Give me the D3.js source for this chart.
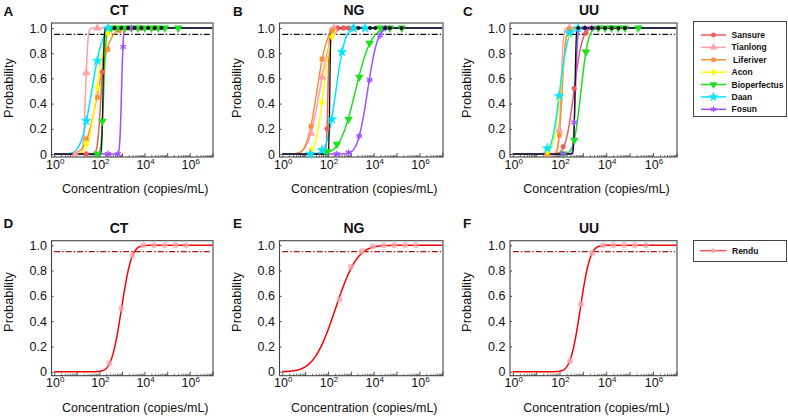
<!DOCTYPE html>
<html><head><meta charset="utf-8">
<script src="https://cdn.jsdelivr.net/npm/d3@7"></script>
<style>
body{margin:0;background:#fff}
svg{display:block;font-family:Arial,"Liberation Sans",Helvetica,sans-serif}
</style>
</head><body>
<svg id="chart" width="788" height="416"></svg>
<script>
// ---------------- DATA ----------------
const targets = ["CT", "NG", "UU"];
const topLetters = ["A", "B", "C"];
const bottomLetters = ["D", "E", "F"];
const kits = ["Sansure", "Tianlong", "Liferiver", "Acon", "Bioperfectus", "Daan", "Fosun"];
const kitColors = ["#f25a5a", "#ffa0a4", "#f88f3c", "#ffff00", "#1ee01e", "#00e5ff", "#9c50ff"];
const kitShapes = ["circle", "triangle", "square", "diamond", "triangleDown", "star", "asterisk"];
const xTickExponents = [0, 2, 4, 6];
const yTicks = [0, 0.2, 0.4, 0.6, 0.8, 1.0];
const lodLevel = 0.95;

// probit fits: log10(copies/mL) at 50% detection and SD (log10 units), per kit
const ctMid = [2.08, 1.39, 1.94, 1.88, 2.19, 1.66, 2.98];
const ctSd  = [0.12, 0.08, 0.42, 0.29, 0.085, 0.37, 0.06];
const ngMid = [2.00, 1.635, 1.515, 1.795, 3.20, 2.345, 3.73];
const ngSd  = [0.05, 0.39, 0.34, 0.26, 0.54, 0.31, 0.34];
const uuMid = [2.62, 2.06, 2.11, 2.04, 2.92, 2.01, 2.68];
const uuSd  = [0.28, 0.08, 0.12, 0.24, 0.24, 0.27, 0.07];
// black reference curve in panels A-C
const refMid = [2.16, 2.08, 2.66];
const refSd  = [0.04, 0.03, 0.04];

// observed hit rates: [log10 copies/mL, probability]
const ctPoints = [
  [[1.42, 0], [2.13, 0.65], [2.67, 1], [3.27, 1], [3.86, 1], [4.45, 1]],
  [[0.94, 0], [1.42, 0.645], [1.91, 1]],
  [[1.42, 0.12], [1.91, 0.45], [2.38, 0.83], [2.90, 0.98]],
  [[1.42, 0.08], [1.91, 0.53], [2.38, 0.96]],
  [[1.91, 0], [2.13, 0.26], [2.53, 1], [2.82, 1], [3.12, 1], [3.42, 1], [3.71, 1], [4.01, 1], [4.31, 1], [4.60, 1], [4.90, 1], [5.49, 1]],
  [[1.42, 0.264], [1.91, 0.74], [2.38, 1]],
  [[2.38, 0], [2.82, 0], [3.05, 0.85], [3.42, 1]]
];
const ngPoints = [
  [[1.26, 0], [1.96, 0.20], [2.42, 1], [2.68, 1], [2.90, 1], [3.12, 1]],
  [[1.26, 0.164], [1.74, 0.61], [2.25, 1]],
  [[1.26, 0.22], [1.74, 0.754], [2.17, 0.98]],
  [[1.26, 0.03], [1.74, 0.41], [2.17, 0.93]],
  [[1.96, 0.02], [2.39, 0.077], [2.90, 0.275], [3.37, 0.61], [3.82, 0.88], [4.28, 1], [4.71, 1], [5.22, 1]],
  [[1.23, 0], [1.74, 0.03], [2.17, 0.275], [2.61, 0.81], [3.12, 1], [3.63, 1]],
  [[2.39, 0], [2.90, 0.01], [3.37, 0.143], [3.82, 0.587], [4.28, 0.94], [4.50, 1]]
];
const uuPoints = [
  [[1.48, 0], [2.16, 0.058], [2.63, 0.52], [3.13, 0.96], [3.66, 1], [4.23, 1]],
  [[1.48, 0], [1.99, 0.19], [2.42, 1]],
  [[1.48, 0], [1.99, 0.15], [2.42, 0.99]],
  [[1.48, 0.02], [1.99, 0.45], [2.42, 0.95]],
  [[2.16, 0], [2.63, 0.11], [3.13, 0.81], [3.66, 1], [3.95, 1], [4.23, 1], [4.52, 1], [4.80, 1], [5.37, 1]],
  [[1.48, 0.045], [1.99, 0.46], [2.42, 0.96], [2.80, 1]],
  [[2.16, 0], [2.63, 0.25], [3.09, 1], [3.38, 1]]
];
const refPoints = [
  [[2.67, 1], [2.97, 1], [3.27, 1], [3.56, 1], [3.86, 1], [4.16, 1], [4.45, 1], [4.75, 1]],
  [[3.33, 1], [3.84, 1], [4.07, 1], [4.50, 1], [4.71, 1], [5.22, 1]],
  [[2.80, 1], [3.09, 1], [3.38, 1], [3.66, 1], [3.95, 1], [4.23, 1], [4.52, 1], [4.80, 1]]
];

// Rendu (panels D-F)
const renduLabel = "Rendu";
const renduMid = [2.98, 2.33, 2.89];
const renduSd  = [0.35, 0.75, 0.33];
const renduPoints = [
  [[2.44, 0.066], [2.98, 0.50], [3.46, 0.92], [3.95, 1], [4.41, 1], [4.88, 1], [5.36, 1], [5.83, 1]],
  [[2.51, 0.57], [3.00, 0.83], [3.48, 0.955], [3.96, 0.99], [4.43, 1], [4.89, 1], [5.37, 1], [5.84, 1]],
  [[2.45, 0.085], [2.92, 0.533], [3.40, 0.937], [3.87, 1], [4.30, 1], [4.77, 1], [5.23, 1], [5.69, 1]]
];

const xLabel = "Concentration (copies/mL)";
const yLabel = "Probability";

// ---------------- LAYOUT ----------------
const svg = d3.select("#chart");
const colsX = [[51.5, 213], [279.5, 443], [510, 677]];
const titleX = [119, 354, 589];
const letterX = [3.5, 233, 463];
const rowsY = [
  {top: 23, bottom: 157, one: 28, zero: 154, title: 15, letter: 16, ylab: 88},
  {top: 240.7, bottom: 375.7, one: 245.3, zero: 371.7, title: 233, letter: 228, ylab: 302}
];
const xDomain = [Math.pow(10, -0.12), Math.pow(10, 7.03)];
const curveStart = 0, curveEnd = 7;

function erf(x) {
  const s = Math.sign(x); x = Math.abs(x);
  const t = 1 / (1 + 0.3275911 * x);
  const y = 1 - (((((1.061405429 * t - 1.453152027) * t) + 1.421413741) * t - 0.284496736) * t + 0.254829592) * t * Math.exp(-x * x);
  return s * y;
}
function probit(v, mid, sd) { return 0.5 * (1 + erf((v - mid) / (sd * Math.SQRT2))); }

function symbolPath(shape, size) {
  const map = {circle: d3.symbolCircle, triangle: d3.symbolTriangle, square: d3.symbolSquare,
    diamond: d3.symbolDiamond, triangleDown: d3.symbolTriangle, star: d3.symbolStar,
    asterisk: d3.symbolAsterisk || d3.symbolCross};
  return d3.symbol().type(map[shape]).size(size)();
}
const shapeSize = {circle: 18, triangle: 24, square: 18, diamond: 20, triangleDown: 26, star: 30, asterisk: 30};

function makePanel(row, col) {
  const [l, r] = colsX[col];
  const R = rowsY[row];
  const x = d3.scaleLog().domain(xDomain).range([l, r]);
  const y = d3.scaleLinear().domain([0, 1]).range([R.zero, R.one]);
  const g = svg.append("g");

  const minor = [];
  for (let d = 0; d < 7; d++) for (let k = 2; k <= 9; k++) minor.push(k * Math.pow(10, d));
  const major = d3.range(0, 8).map(e => Math.pow(10, e));
  g.append("g").attr("transform", `translate(0,${R.bottom})`)
    .call(d3.axisBottom(x).tickValues(minor).tickSize(-2).tickFormat(""))
    .call(a => a.select(".domain").remove())
    .call(a => a.selectAll("line").attr("stroke", "#555").attr("stroke-width", 0.8));
  g.append("g").attr("transform", `translate(0,${R.bottom})`)
    .call(d3.axisBottom(x).tickValues(major).tickSize(-4).tickPadding(0).tickFormat(""))
    .call(a => a.select(".domain").remove())
    .call(a => a.selectAll("line").attr("stroke", "#444").attr("stroke-width", 0.9));
  xTickExponents.forEach(e => {
    const t = g.append("text").attr("x", x(Math.pow(10, e)) + 1).attr("y", R.bottom + 11.5)
      .attr("text-anchor", "middle").attr("font-size", 12.5).attr("fill", "#111");
    t.append("tspan").text("10");
    t.append("tspan").attr("dy", -5).attr("font-size", 8).text(String(e));
  });

  g.append("g").attr("transform", `translate(${l},0)`)
    .call(d3.axisLeft(y).tickValues(yTicks).tickSize(-2).tickPadding(4.5)
      .tickFormat(d => d === 0 ? "0" : d.toFixed(1)))
    .call(a => a.select(".domain").remove())
    .call(a => a.selectAll("line").attr("stroke", "#444"))
    .call(a => a.selectAll("text").attr("font-size", 12.5).attr("fill", "#111")
      .attr("font-family", "Arial, 'Liberation Sans', sans-serif"));

  g.append("rect").attr("x", l).attr("y", R.top).attr("width", r - l).attr("height", R.bottom - R.top)
    .attr("fill", "none").attr("stroke", "#444").attr("stroke-width", 1.1);

  g.append("text").attr("x", (l + r) / 2 + 3).attr("y", R.bottom + 36).attr("text-anchor", "middle")
    .attr("font-size", 12.5).attr("fill", "#111").text(xLabel);
  g.append("text").attr("transform", `translate(${l - 39},${R.ylab}) rotate(-90)`).attr("text-anchor", "middle")
    .attr("font-size", 12.8).attr("fill", "#111").text(yLabel);
  g.append("text").attr("x", titleX[col]).attr("y", R.title).attr("text-anchor", "middle")
    .attr("font-size", 14).attr("font-weight", "bold").attr("fill", "#111").text(targets[col]);
  g.append("text").attr("x", letterX[col]).attr("y", R.letter)
    .attr("font-size", 13.5).attr("font-weight", "bold").attr("fill", "#111")
    .text((row === 0 ? topLetters : bottomLetters)[col]);

  return {g, x, y};
}

function curveData(mid, sd) {
  return d3.range(curveStart, curveEnd + 0.0001, 0.01).map(v => [v, probit(v, mid, sd)]);
}

// ---------------- TOP ROW ----------------
const mids = [ctMid, ngMid, uuMid];
const sds = [ctSd, ngSd, uuSd];
const pts = [ctPoints, ngPoints, uuPoints];

for (let c = 0; c < 3; c++) {
  const {g, x, y} = makePanel(0, c);
  const line = d3.line().x(d => x(Math.pow(10, d[0]))).y(d => y(d[1]));
  g.append("path").datum([[0, lodLevel], [6.95, lodLevel]]).attr("d", line)
    .attr("fill", "none").attr("stroke", "#111").attr("stroke-width", 1.3)
    .attr("stroke-dasharray", "6,2,1.5,2");
  kits.forEach((k, i) => {
    g.append("path").datum(curveData(mids[c][i], sds[c][i])).attr("d", line)
      .attr("fill", "none").attr("stroke", kitColors[i]).attr("stroke-width", 1.5);
  });
  g.append("path").datum(curveData(refMid[c], refSd[c])).attr("d", line)
    .attr("fill", "none").attr("stroke", "#111").attr("stroke-width", 1.3);
  kits.forEach((k, i) => {
    const shp = kitShapes[i];
    g.selectAll(null).data(pts[c][i]).join("path")
      .attr("transform", d => `translate(${x(Math.pow(10, d[0]))},${y(d[1])})` + (shp === "triangleDown" ? " rotate(180)" : ""))
      .attr("d", symbolPath(shp, shapeSize[shp]))
      .attr("fill", shp === "asterisk" ? "none" : kitColors[i])
      .attr("stroke", kitColors[i]).attr("stroke-width", shp === "asterisk" ? 1.3 : 0.5);
  });
  g.selectAll(null).data(refPoints[c]).join("path")
    .attr("transform", d => `translate(${x(Math.pow(10, d[0]))},${y(d[1])})`)
    .attr("d", symbolPath("circle", 14)).attr("fill", "#1a1a1a");
}

// ---------------- BOTTOM ROW ----------------
for (let c = 0; c < 3; c++) {
  const {g, x, y} = makePanel(1, c);
  const line = d3.line().x(d => x(Math.pow(10, d[0]))).y(d => y(d[1]));
  g.append("path").datum([[0, lodLevel], [6.95, lodLevel]]).attr("d", line)
    .attr("fill", "none").attr("stroke", "#a01818").attr("stroke-width", 1.3)
    .attr("stroke-dasharray", "6,2,1.5,2");
  g.append("path").datum(curveData(renduMid[c], renduSd[c])).attr("d", line)
    .attr("fill", "none").attr("stroke", "#ff0000").attr("stroke-width", 1.5);
  g.selectAll(null).data(renduPoints[c]).join("circle")
    .attr("cx", d => x(Math.pow(10, d[0]))).attr("cy", d => y(d[1])).attr("r", 3)
    .attr("fill", "#f4a6ae").attr("opacity", 0.75);
}

// ---------------- LEGENDS ----------------
const leg1 = svg.append("g");
leg1.append("rect").attr("x", 693.5).attr("y", 21.5).attr("width", 93).attr("height", 95)
  .attr("fill", "#fff").attr("stroke", "#444").attr("stroke-width", 1);
const legY = d3.scalePoint().domain(kits).range([35, 109.3]);
kits.forEach((k, i) => {
  const yy = legY(k);
  leg1.append("line").attr("x1", 701).attr("x2", 726).attr("y1", yy).attr("y2", yy)
    .attr("stroke", kitColors[i]).attr("stroke-width", 1.5);
  const shp = kitShapes[i];
  leg1.append("path").attr("transform", `translate(713.5,${yy})` + (shp === "triangleDown" ? " rotate(180)" : ""))
    .attr("d", symbolPath(shp, shapeSize[shp] * 0.8))
    .attr("fill", shp === "asterisk" ? "none" : kitColors[i]).attr("stroke", kitColors[i]).attr("stroke-width", shp === "asterisk" ? 1.2 : 0.5);
  leg1.append("text").attr("x", k === "Liferiver" ? 733 : 731.5).attr("y", yy).attr("dy", "0.35em")
    .attr("font-size", 8.5).attr("font-weight", "bold").attr("fill", "#111").text(k);
});

const leg2 = svg.append("g");
leg2.append("rect").attr("x", 693.5).attr("y", 240.5).attr("width", 93).attr("height", 21)
  .attr("fill", "#fff").attr("stroke", "#444").attr("stroke-width", 1);
leg2.append("line").attr("x1", 700).attr("x2", 726.5).attr("y1", 250.7).attr("y2", 250.7)
  .attr("stroke", "#ff5a5a").attr("stroke-width", 1.5);
leg2.append("circle").attr("cx", 713.3).attr("cy", 250.7).attr("r", 2.3).attr("fill", "#f4a6ae");
leg2.append("text").attr("x", 732).attr("y", 250.7).attr("dy", "0.35em")
  .attr("font-size", 8.5).attr("font-weight", "bold").attr("fill", "#111").text(renduLabel);
</script>
</body></html>
